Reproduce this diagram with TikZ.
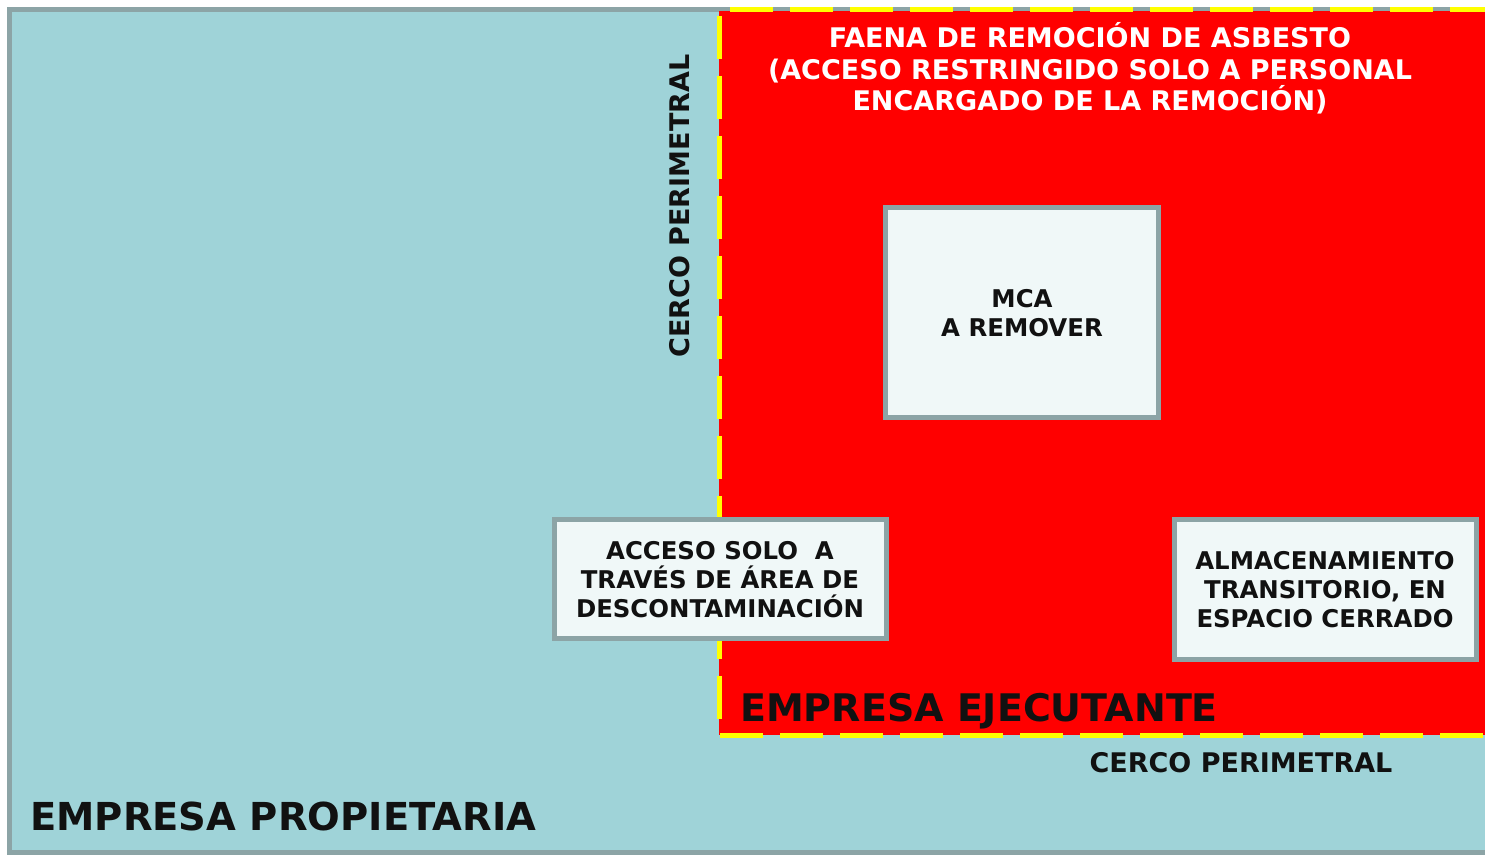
\documentclass[tikz,border=0pt]{standalone}
\usepackage{fontspec}
\setmainfont{DejaVu Sans}
\definecolor{tealbg}{HTML}{9FD3D8}
\definecolor{grayedge}{HTML}{8CA4A6}
\definecolor{redzone}{HTML}{FF0000}
\definecolor{yellowline}{HTML}{FFFF00}
\definecolor{boxfill}{HTML}{F0F8F8}
\definecolor{inktext}{HTML}{111111}
\tikzset{
  lbl/.style={inner sep=0pt, text=inktext, font=\bfseries, align=center},
  whitebox/.style={draw=grayedge, line width=5pt, fill=boxfill},
  fence/.style={draw=yellowline, line width=4.5pt, dash pattern=on 43pt off 17pt},
  boxtext/.style={lbl, font=\fontsize{24.4}{29}\selectfont\bfseries},
}
\begin{document}
\begin{tikzpicture}[x=1pt,y=-1pt]
\useasboundingbox (0,0) rectangle (1485,855);
% outer owner area
\fill[white] (0,0) rectangle (1485,855);
\fill[tealbg] (9.5,9.5) rectangle (1490,852);
\draw[grayedge, line width=5pt] (1490,9.5) -- (9.5,9.5) -- (9.5,852) -- (1490,852);
% red work zone
\fill[redzone] (719,11) rectangle (1490,735);
\draw[fence] (730,9.5) -- (1490,9.5);
\draw[fence] (719.5,16) -- (719.5,735);
\draw[fence] (720,735.5) -- (1490,735.5);
% boxes
\draw[whitebox] (885.5,207.5) rectangle (1158.5,417.5);
\node[boxtext] (mcat) at (1022,313) {MCA\\A REMOVER};
\draw[whitebox] (554,519.5) rectangle (886,638.5);
\node[boxtext] (acc) at (720,580) {ACCESO SOLO\ \ A\\TRAVÉS DE ÁREA DE\\DESCONTAMINACIÓN};
\draw[whitebox] (1174,519.5) rectangle (1476,659.5);
\node[boxtext] (alm) at (1325,590) {ALMACENAMIENTO\\TRANSITORIO, EN\\ESPACIO CERRADO};
% title
\node[lbl, text=white, font=\fontsize{27}{31.5}\selectfont\bfseries] (title) at (1090,68.5) {FAENA DE REMOCIÓN DE ASBESTO\\(ACCESO RESTRINGIDO SOLO A PERSONAL\\ENCARGADO DE LA REMOCIÓN)};
% labels
\node[lbl, rotate=90, font=\fontsize{27}{30}\selectfont\bfseries] (cerco1) at (680,206) {CERCO PERIMETRAL};
\node[lbl, font=\fontsize{27}{30}\selectfont\bfseries] (cerco2) at (1241,763) {CERCO PERIMETRAL};
\node[lbl, anchor=west, font=\fontsize{38}{42}\selectfont\bfseries] (ejec) at (740,711) {EMPRESA EJECUTANTE};
\node[lbl, anchor=west, font=\fontsize{38.5}{42}\selectfont\bfseries] (prop) at (30,816) {EMPRESA PROPIETARIA};
\end{tikzpicture}
\end{document}
